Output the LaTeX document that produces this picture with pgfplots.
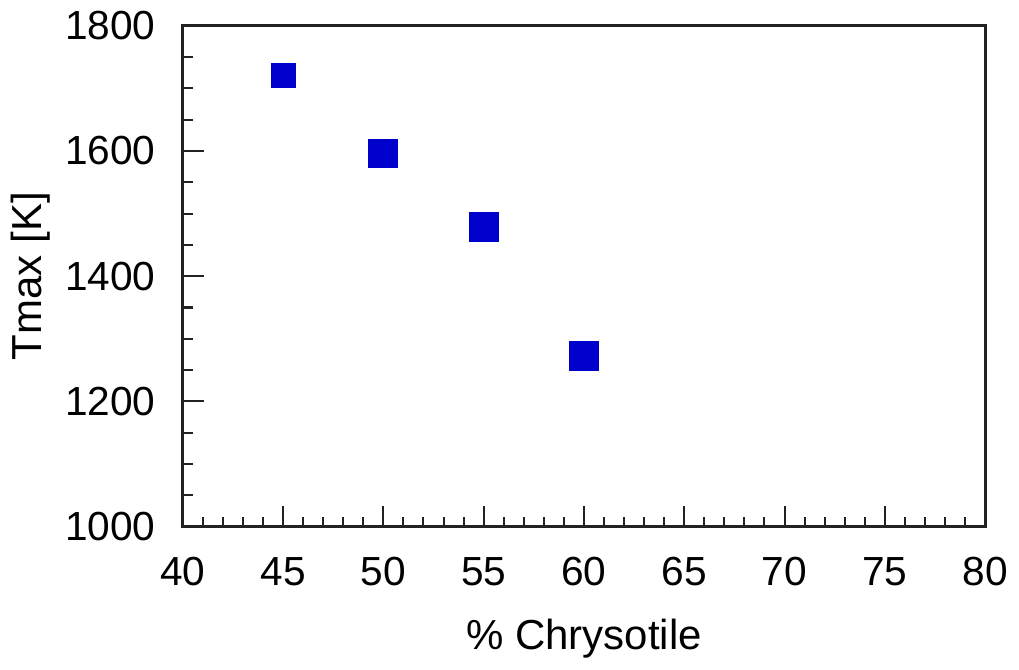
\documentclass[border=0pt]{standalone}
\usepackage{pgfplots}
\pgfplotsset{compat=1.18}
\usepackage{fontspec}
\setmainfont{Liberation Sans}
\definecolor{mk}{HTML}{0000CC}
\definecolor{ax}{HTML}{222222}
\begin{document}
\begin{tikzpicture}
\begin{axis}[
  scale only axis,
  width=237pt, height=148pt,
  xmin=40, xmax=80, ymin=1000, ymax=1800,
  xtick={40,45,...,80}, ytick={1000,1200,...,1800},
  minor x tick num=4, minor y tick num=3,
  tick align=inside,
  xtick pos=bottom, ytick pos=left,
  major tick length=6.2pt, minor tick length=3pt,
  axis line style={ax, line width=0.9pt},
  every tick/.style={ax, line width=0.6pt},
  tick label style={font=\fontsize{12}{14}\selectfont},
  label style={font=\fontsize{12.4}{14}\selectfont},
  xticklabel style={yshift=-5.5pt},
  yticklabel style={xshift=-4.5pt},
  /pgf/number format/assume math mode=true,
  /pgf/number format/1000 sep={},
  xlabel={\% Chrysotile},
  ylabel={Tmax [K]},
  xlabel style={yshift=-3pt},
  ylabel style={yshift=-2.5pt},
]
\addplot[only marks, mark=square*, mark size=3.5pt, color=mk] coordinates {(45,1720)};
\addplot[only marks, mark=square*, mark size=4.2pt, color=mk] coordinates {(50,1596) (55,1479) (60,1272)};
\end{axis}
\end{tikzpicture}
\end{document}
